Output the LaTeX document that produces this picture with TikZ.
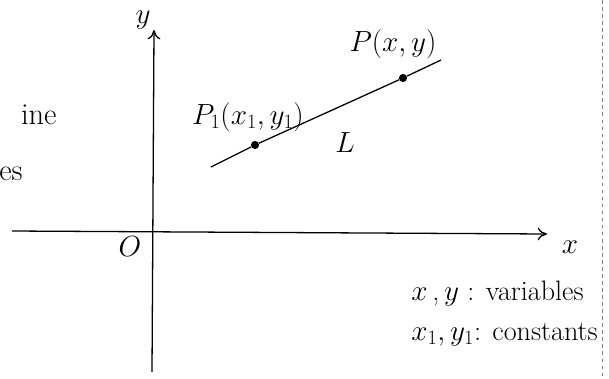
\documentclass[tikz,border=0pt]{standalone}
\usepackage{tikz}
\usetikzlibrary{arrows.meta}

\begin{document}
\begin{tikzpicture}[
    x=0.03cm, y=-0.03cm,
    every node/.style={
        font=\fontsize{26}{30}\selectfont,
        inner sep=1pt
    },
    remark/.style={anchor=base west, font=\fontsize{24}{28}\selectfont},
    axis/.style={->, line width=1.1pt, >={To[length=8pt,width=11pt]}},
    dot/.style={circle, fill, inner sep=0pt, minimum size=7pt}
]

\useasboundingbox (0,0) rectangle (609,378);
\begin{scope}
\clip (0,0) rectangle (609,378);
\node (word1) [anchor=base east] at (58,124) {ine};
\node (word2) [anchor=base east] at (24,180) {es};
\end{scope}

% axes
\coordinate (xstart) at (12,231);
\coordinate (xend) at (547,234);
\coordinate (ystart) at (152,372);
\coordinate (yend) at (154,30);
\draw [axis] (xstart) -- (xend);
\draw [axis] (ystart) -- (yend);

\node (xlabel) at (570,247) {$x$};
\node (ylabel) at (143,20) {$y$};
\node (origin) at (130,247) {$O$};

% the line L
\coordinate (lstart) at (211,167);
\coordinate (lend) at (441,60);
\node (p1) [dot] at (255,145) {};
\node (p) [dot] at (403,78) {};
\draw [line width=1.1pt] (lstart) -- (p1) -- (p) -- (lend);

\node (p1label) at (248,117) {$P_1(x_1,y_1)$};
\node (plabel) at (393,44) {$P(x,y)$};
\node (lname) at (345,143) {$L$};

% remarks
\node (vars) [remark] at (410,300) {$x$\,,\,$y$ : variables};
\node (consts) [remark] at (410,340) {$x_1,y_1$: constants};

\draw [gray, dashed] (602,0) -- (602,378);

\end{tikzpicture}
\end{document}
